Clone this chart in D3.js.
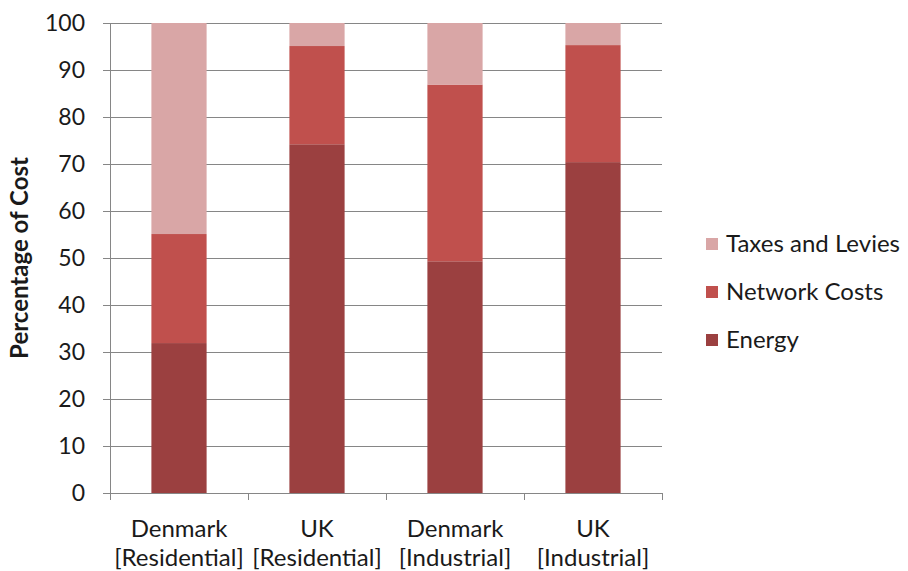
<!DOCTYPE html>
<html><head><meta charset="utf-8">
<script src="https://cdn.jsdelivr.net/npm/d3@7"></script>
<style>body{margin:0;background:#fff;} text{font-family:Lato,"Open Sans",sans-serif;fill:#1a1a1a;}</style>
</head><body>
<svg id="c" width="908" height="571"></svg>
<script>
const categories = [["Denmark","[Residential]"],["UK","[Residential]"],["Denmark","[Industrial]"],["UK","[Industrial]"]];
const seriesNames = ["Energy","Network Costs","Taxes and Levies"];
const energy = [31.9, 74.2, 49.3, 70.4];
const network = [23.2, 20.9, 37.6, 24.9];
const taxes = [44.9, 4.9, 13.1, 4.7];
const yTicks = [0,10,20,30,40,50,60,70,80,90,100];
const colors = ["#9b4040","#c0504d","#d9a6a6"];

(function(){
const svg = d3.select("#c");
const mL = 110, mR = 662, mT = 23, mB = 493;
const x = d3.scaleBand().domain(d3.range(categories.length)).range([mL, mR]).paddingInner(0.6).paddingOuter(0.3);
const xb = d3.scaleBand().domain(d3.range(categories.length)).range([mL, mR]);
const y = d3.scaleLinear().domain([0,100]).range([mB, mT]);
const axisColor = "#868686";

svg.append("g").selectAll("line").data(yTicks).join("line")
  .attr("x1", mL-7).attr("x2", mR).attr("y1", d=>y(d)).attr("y2", d=>y(d))
  .attr("stroke", axisColor).attr("stroke-width", 1).attr("shape-rendering","crispEdges");

svg.append("g").selectAll("text").data(yTicks).join("text")
  .attr("x", mL-25).attr("y", d=>y(d)).attr("dy","0.35em").attr("text-anchor","end")
  .attr("font-size", 23).text(d=>d);

const rows = categories.map((c,i)=>({i, Energy:energy[i], "Network Costs":network[i], "Taxes and Levies":taxes[i]}));
const stack = d3.stack().keys(seriesNames)(rows);
svg.append("g").selectAll("g").data(stack).join("g").attr("fill",(d,k)=>colors[k])
  .selectAll("rect").data(d=>d).join("rect")
  .attr("x", d=>x(d.data.i)).attr("width", x.bandwidth())
  .attr("y", d=>y(Math.min(100,d[1]))).attr("height", d=>y(d[0])-y(Math.min(100,d[1])));

svg.append("line").attr("x1",mL).attr("x2",mL).attr("y1",mT).attr("y2",mB)
  .attr("stroke",axisColor).attr("shape-rendering","crispEdges");
svg.append("line").attr("x1",mL).attr("x2",mR).attr("y1",mB).attr("y2",mB)
  .attr("stroke",axisColor).attr("shape-rendering","crispEdges");
const bounds = d3.range(categories.length).map(i=>xb(i)).concat([mR]);
svg.append("g").selectAll("line").data(bounds).join("line")
  .attr("x1",d=>d).attr("x2",d=>d).attr("y1",mB).attr("y2",mB+7)
  .attr("stroke",axisColor).attr("shape-rendering","crispEdges");

const cl = svg.append("g").selectAll("text").data(categories).join("text")
  .attr("text-anchor","middle").attr("font-size",24)
  .attr("transform",(d,i)=>`translate(${xb(i)+xb.bandwidth()/2},0)`);
cl.append("tspan").attr("x",0).attr("y",537).text(d=>d[0]);
cl.append("tspan").attr("x",0).attr("y",566).text(d=>d[1]);

svg.append("text").attr("transform",`translate(28,258) rotate(-90)`).attr("text-anchor","middle")
  .attr("font-size",24).attr("font-weight","bold").text("Percentage of Cost");

const legendOrder = [2,1,0];
const lg = svg.append("g").selectAll("g").data(legendOrder).join("g")
  .attr("transform",(d,j)=>`translate(706,${244+j*48})`);
lg.append("rect").attr("x",0).attr("y",-6).attr("width",12).attr("height",12).attr("fill",d=>colors[d]);
lg.append("text").attr("x",20).attr("y",0).attr("dy","0.35em").attr("font-size",24).text(d=>seriesNames[d]);
})();
</script>
</body></html>
